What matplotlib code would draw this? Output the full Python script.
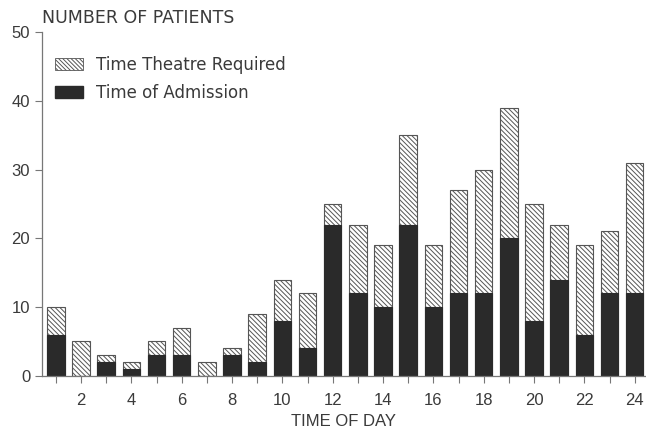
import numpy as np
import matplotlib.pyplot as plt
from matplotlib.patches import Patch

plt.rcParams['font.family'] = ['Liberation Sans', 'DejaVu Sans']
plt.rcParams['hatch.linewidth'] = 0.7

hours = np.arange(1, 25)
# patients by hour of day
theatre = [10, 5, 3, 2, 5, 7, 2, 4, 9, 14, 12, 25,
           22, 19, 35, 19, 27, 30, 39, 25, 22, 19, 21, 31]
admission = [6, 0, 2, 1, 3, 3, 0, 3, 2, 8, 4, 22,
             12, 10, 22, 10, 12, 12, 20, 8, 14, 6, 12, 12]

ink = '#2a2a2a'
txt = '#3a3a3a'
hatch_col = '#555555'

fig = plt.figure(figsize=(6.46, 4.32), dpi=100)
ax = fig.add_axes([0.065, 0.13, 0.935, 0.796])

ax.bar(hours, theatre, 0.7, color='white', edgecolor=hatch_col,
       hatch='\\' * 7, linewidth=0.8)
ax.bar(hours, admission, 0.7, color=ink, edgecolor=ink, linewidth=0.8)

ax.set_xlim(0.45, 24.45)
ax.set_ylim(0, 50)
ax.set_yticks([0, 10, 20, 30, 40, 50])
ax.set_xticks(hours)
ax.set_xticklabels([str(h) if h % 2 == 0 else '' for h in hours])

for s in ['top', 'right']:
    ax.spines[s].set_visible(False)
for s in ['left', 'bottom']:
    ax.spines[s].set_color('#777777')
    ax.spines[s].set_linewidth(0.9)
ax.tick_params(colors='#777777', labelcolor=txt, labelsize=12, length=5)
ax.tick_params(axis='x', pad=7)

ax.set_xlabel('TIME OF DAY', fontsize=12, color=txt, labelpad=5)
fig.text(0.065, 0.958, 'NUMBER OF PATIENTS', fontsize=12.5, color=txt,
         family='DejaVu Sans', va='center', ha='left')

handles = [Patch(facecolor='white', edgecolor=hatch_col, hatch='\\' * 8,
                 linewidth=0.6, label='Time Theatre Required'),
           Patch(facecolor=ink, edgecolor=ink, label='Time of Admission')]
leg = ax.legend(handles=handles, loc='upper left', bbox_to_anchor=(0.021, 0.93),
                frameon=False, borderpad=0, borderaxespad=0,
                prop={'family': 'DejaVu Sans', 'size': 12},
                handlelength=1.7, handleheight=0.7,
                labelspacing=0.6, handletextpad=0.75)
for t in leg.get_texts():
    t.set_color(txt)

fig.savefig('out.png', dpi=100)
